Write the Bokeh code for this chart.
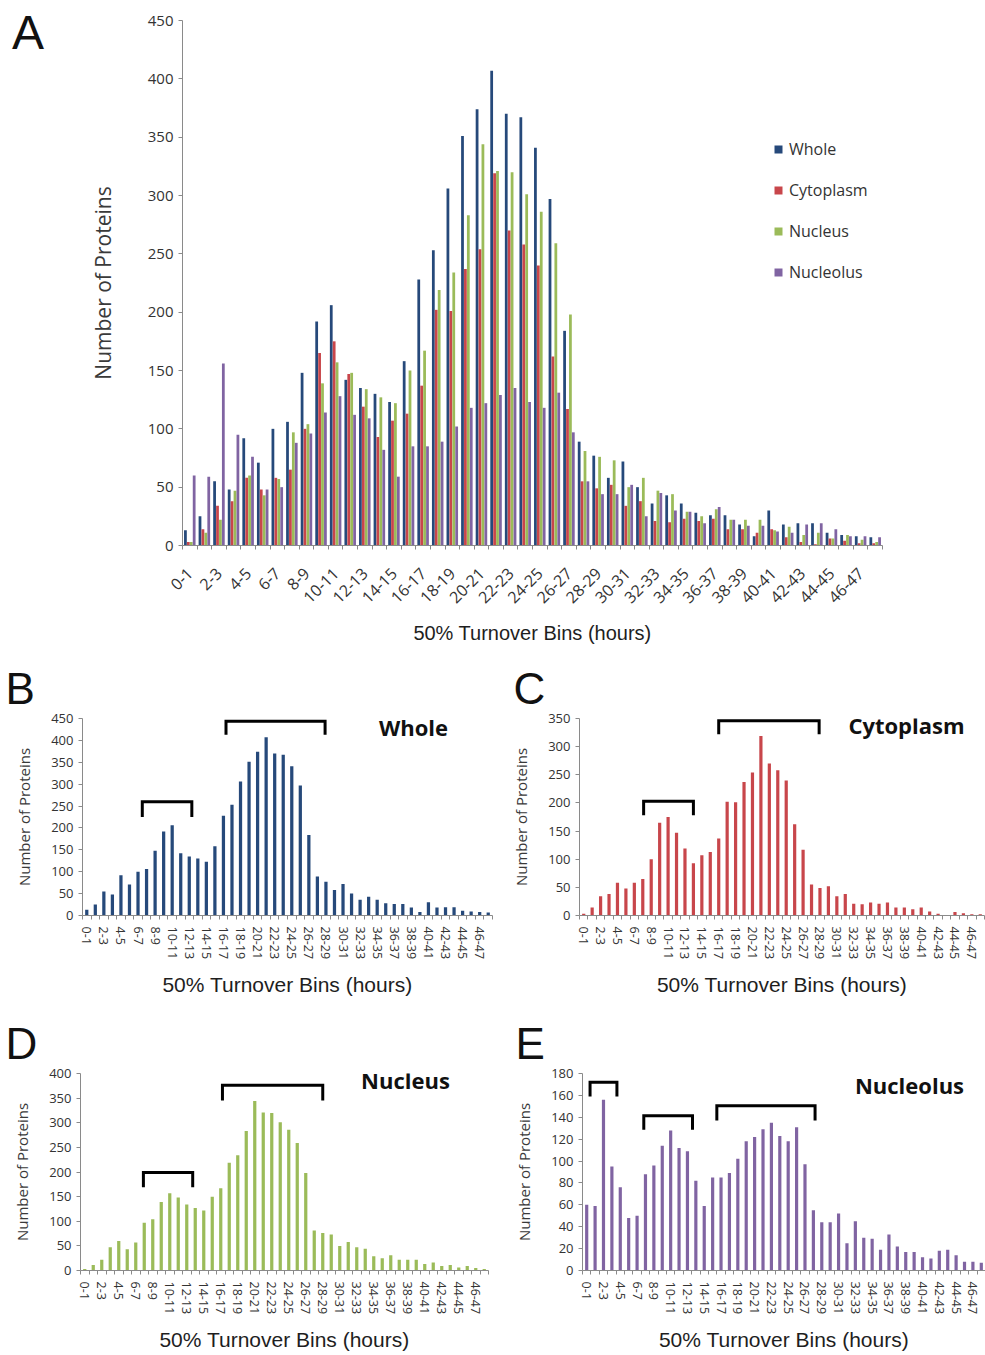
import math
from bokeh.plotting import figure
from bokeh.models import FixedTicker, Label, ColumnDataSource, Title, Div
from bokeh.layouts import column, row
from bokeh.transform import dodge
from bokeh.embed import file_html
from bokeh.resources import INLINE

# ---------------- data ----------------
bins = ["0-1", "1-2", "2-3", "3-4", "4-5", "5-6", "6-7", "7-8", "8-9", "9-10",
        "10-11", "11-12", "12-13", "13-14", "14-15", "15-16", "16-17", "17-18",
        "18-19", "19-20", "20-21", "21-22", "22-23", "23-24", "24-25", "25-26",
        "26-27", "27-28", "28-29", "29-30", "30-31", "31-32", "32-33", "33-34",
        "34-35", "35-36", "36-37", "37-38", "38-39", "39-40", "40-41", "41-42",
        "42-43", "43-44", "44-45", "45-46", "46-47", "47-48"]

whole = [13, 25, 55, 48, 92, 71, 100, 106, 148, 192,
         206, 142, 135, 130, 123, 158, 228, 253, 306, 351,
         374, 407, 370, 367, 341, 297, 184, 89, 77, 58,
         72, 50, 36, 43, 36, 28, 26, 26, 18, 8,
         30, 18, 19, 19, 11, 9, 8, 7]

cytoplasm = [3, 14, 34, 38, 58, 48, 58, 65, 100, 165,
             175, 147, 119, 93, 107, 113, 137, 202, 201, 237,
             254, 319, 270, 258, 240, 162, 117, 55, 49, 52,
             34, 38, 21, 20, 23, 21, 23, 14, 14, 11,
             14, 7, 3, 1, 6, 4, 2, 2]

nucleus = [3, 11, 22, 47, 60, 43, 57, 97, 104, 139,
           157, 148, 134, 127, 122, 150, 167, 219, 234, 283,
           344, 321, 320, 301, 286, 259, 198, 81, 76, 73,
           50, 58, 47, 44, 29, 25, 31, 22, 22, 22,
           13, 16, 9, 11, 6, 9, 5, 3]

nucleolus = [60, 59, 156, 95, 76, 48, 50, 88, 96, 114,
             128, 112, 109, 82, 59, 85, 85, 89, 102, 118,
             122, 129, 135, 123, 118, 131, 97, 55, 44, 44,
             52, 25, 45, 30, 29, 19, 33, 22, 17, 17,
             12, 11, 18, 19, 14, 8, 8, 7]

series_names = ["Whole", "Cytoplasm", "Nucleus", "Nucleolus"]
series_colors = ["#26497A", "#C8464B", "#9BBB59", "#8064A2"]

x_idx = list(range(len(bins)))
even_ticks = x_idx[::2]
tick_labels = {i: bins[i] for i in even_ticks}
bin_edges = [i - 0.5 for i in range(len(bins) + 1)]

AX = "#8A8A8A"
TXT = "#333333"


def base_fig(width, height, ymax, left, right, top, bottom):
    p = figure(width=width, height=height, x_range=(-0.5, 47.5), y_range=(0, ymax),
               output_backend="svg", toolbar_location=None,
               min_border_left=left, min_border_right=right,
               min_border_top=top, min_border_bottom=bottom)
    p.outline_line_color = None
    p.xgrid.visible = False
    p.ygrid.visible = False
    p.background_fill_color = "white"
    p.border_fill_color = "white"
    return p


def style_x(p, font_size, orient, standoff, title_size, title_standoff):
    ax = p.xaxis[0]
    ax.ticker = FixedTicker(ticks=even_ticks, minor_ticks=bin_edges)
    ax.major_label_overrides = tick_labels
    ax.major_tick_line_color = None
    ax.minor_tick_line_color = AX
    ax.minor_tick_out = 4
    ax.minor_tick_in = 0
    ax.axis_line_color = AX
    ax.major_label_orientation = orient
    ax.major_label_standoff = standoff
    ax.major_label_text_font = "Open Sans"
    ax.major_label_text_font_size = font_size
    ax.major_label_text_color = TXT
    ax.axis_label = "50% Turnover Bins (hours)"
    ax.axis_label_text_font = "Liberation Sans"
    ax.axis_label_text_font_style = "normal"
    ax.axis_label_text_font_size = title_size
    ax.axis_label_text_color = "#1E1E1E"
    ax.axis_label_standoff = title_standoff


def style_y(p, ticks, font_size, title_size, title_standoff):
    ax = p.yaxis[0]
    ax.ticker = FixedTicker(ticks=ticks)
    ax.minor_tick_line_color = None
    ax.major_tick_line_color = AX
    ax.major_tick_out = 4
    ax.major_tick_in = 0
    ax.axis_line_color = AX
    ax.major_label_text_font = "Open Sans"
    ax.major_label_text_font_size = font_size
    ax.major_label_text_color = TXT
    ax.major_label_standoff = 5
    ax.axis_label = "Number of Proteins"
    ax.axis_label_text_font = "Open Sans"
    ax.axis_label_text_font_style = "normal"
    ax.axis_label_text_font_size = title_size
    ax.axis_label_text_color = "#3A3A3A"
    ax.axis_label_standoff = title_standoff


def px_to_data(geom, px, py):
    fl, fw, ft, fh, ymax = geom
    x = -0.5 + (px - fl) / fw * 48.0
    y = (ft + fh - py) / fh * ymax
    return x, y


def add_letter_title(p, text, offset, size="44px", standoff=10):
    p.add_layout(Title(text=text, text_font="Liberation Sans", text_font_size=size,
                       text_font_style="normal", text_color="#111111",
                       align="left", offset=offset, standoff=standoff), "above")


def add_title(p, geom, text, px, py):
    x, y = px_to_data(geom, px, py)
    p.add_layout(Label(x=x, y=y, text=text, text_font="Open Sans",
                       text_font_style="bold", text_font_size="22px",
                       text_color="#111111", text_align="center",
                       text_baseline="middle"))


def add_brackets(p, brackets):
    for x0, x1, ytop, yleg in brackets:
        p.line(x=[x0, x0, x1, x1], y=[yleg, ytop, ytop, yleg],
               line_color="black", line_width=3, line_join="miter")


# ---------------- panel A ----------------
letterA = Div(text="A", width=50, height=655, margin=0,
              styles={"font-family": "Liberation Sans", "font-size": "48px",
                      "line-height": "1", "color": "#111111",
                      "padding-left": "12px", "padding-top": "9px",
                      "box-sizing": "border-box"})

srcA = ColumnDataSource(dict(x=x_idx, whole=whole, cytoplasm=cytoplasm,
                             nucleus=nucleus, nucleolus=nucleolus))
pA = base_fig(935, 655, 450, 132, 103, 20, 110)
offsets = [-0.3, -0.1, 0.1, 0.3]
fields = ["whole", "cytoplasm", "nucleus", "nucleolus"]
for f, off, name, col in zip(fields, offsets, series_names, series_colors):
    pA.vbar(x=dodge("x", off, range=pA.x_range), top=f, width=0.19, source=srcA,
            fill_color=col, line_color=None, legend_label=name)
style_x(pA, "16px", math.pi / 4, 19, "20px", 10)
style_y(pA, list(range(0, 451, 50)), "15px", "21px", 28)
lg = pA.legend[0]
lg.location = (591, 262)
lg.border_line_color = None
lg.background_fill_alpha = 0
lg.padding = 0
lg.margin = 0
lg.spacing = 19
lg.glyph_width = 10
lg.glyph_height = 10
lg.label_height = 20
lg.label_standoff = 6
lg.label_text_font = "Open Sans"
lg.label_text_font_size = "16px"
lg.label_text_color = "#333333"

# ---------------- small panels ----------------
def small_panel(width, height, ymax, ticks, values, color, left, right, top, bottom,
                title, title_px, brackets):
    p = base_fig(width, height, ymax, left, right, top, bottom)
    src = ColumnDataSource(dict(x=x_idx, v=values))
    p.vbar(x="x", top="v", width=0.38, source=src, fill_color=color, line_color=None)
    style_x(p, "12.5px", "vertical", 5, "21px", 11)
    style_y(p, ticks, "13px", "15px", 14)
    fw = width - left - right
    fh = height - top - bottom
    geom = (left, fw, top, fh, ymax)
    add_title(p, geom, title, *title_px)
    add_brackets(p, brackets)
    return p


pB = small_panel(495, 355, 450, list(range(0, 451, 50)), whole, series_colors[0],
                 82, 3, 63, 95, "Whole", (413, 726 - 655),
                 [(6.5, 12.3, 260, 225), (16.3, 27.9, 444, 413)])
pC = small_panel(490, 355, 350, list(range(0, 351, 50)), cytoplasm, series_colors[1],
                 84, 1, 63, 89, "Cytoplasm", (906 - 495, 725 - 655),
                 [(7.1, 13.0, 203, 178), (16.0, 27.9, 346, 322)])
pD = small_panel(495, 345, 400, list(range(0, 401, 50)), nucleus, series_colors[2],
                 80, 7, 63, 85, "Nucleus", (405, 1079 - 1010),
                 [(6.9, 12.7, 199, 169), (16.2, 28.0, 376, 345)])
pE = small_panel(490, 345, 180, list(range(0, 181, 20)), nucleolus, series_colors[3],
                 87, 0, 63, 84, "Nucleolus", (909 - 495, 1085 - 1010),
                 [(0.4, 3.6, 172, 159), (6.8, 12.6, 141.5, 128.5), (15.5, 27.2, 150.6, 137)])

add_letter_title(pB, "B", -77, "44px", 12)
add_letter_title(pC, "C", -66, "44px", 12)
add_letter_title(pD, "D", -75, "44px", 11)
add_letter_title(pE, "E", -67, "44px", 11)

layout = column(row(letterA, pA), row(pB, pC), row(pD, pE))
open("out.html", "w").write(file_html(layout, INLINE))
